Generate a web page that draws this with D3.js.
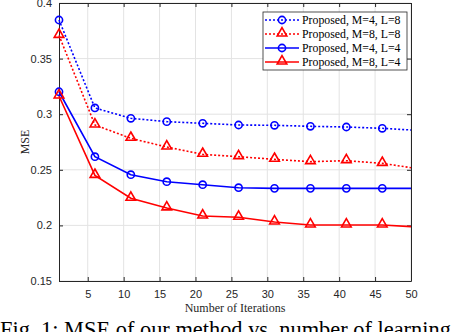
<!DOCTYPE html>
<html>
<head>
<meta charset="utf-8">
<script src="https://cdn.jsdelivr.net/npm/d3@7"></script>
<style>
  body { margin: 0; background: #fff; }
  svg { display: block; }
</style>
</head>
<body>
<div id="chart"></div>
<script>
// data
var iters = [1, 6, 11, 16, 21, 26, 31, 36, 41, 46, 50];
var m4l8 = [0.3847, 0.3056, 0.2963, 0.2933, 0.2918, 0.2903, 0.2900, 0.2891, 0.2885, 0.2873, 0.2858];
var m8l8 = [0.3709, 0.2903, 0.2783, 0.2705, 0.2639, 0.2618, 0.2594, 0.2573, 0.2582, 0.2558, 0.2519];
var m4l4 = [0.3202, 0.2618, 0.2456, 0.2393, 0.2366, 0.2339, 0.2333, 0.2333, 0.2333, 0.2333, 0.2333];
var m8l4 = [0.3164, 0.2450, 0.2244, 0.2157, 0.2084, 0.2073, 0.2031, 0.2004, 0.2004, 0.2004, 0.1989];
var names = ["Proposed, M=4, L=8", "Proposed, M=8, L=8", "Proposed, M=4, L=4", "Proposed, M=8, L=4"];
var xTicks = [5, 10, 15, 20, 25, 30, 35, 40, 45, 50];
var yTicks = [0.15, 0.2, 0.25, 0.3, 0.35, 0.4];

var series = [
  {name: names[0], values: m4l8, color: "#0000ff", dash: "2,2", marker: "circle"},
  {name: names[1], values: m8l8, color: "#ff0000", dash: "2,2", marker: "triangle"},
  {name: names[2], values: m4l4, color: "#0000ff", dash: null, marker: "circle"},
  {name: names[3], values: m8l4, color: "#ff0000", dash: null, marker: "triangle"}
];

var W = 452, H = 332;
var margin = {top: 3, right: 41, bottom: 51, left: 59},
    width = W - margin.left - margin.right,
    height = H - margin.top - margin.bottom;

var svg = d3.select("#chart").append("svg")
    .attr("width", W).attr("height", H);
var g = svg.append("g")
    .attr("transform", "translate(" + margin.left + "," + margin.top + ")");

var x = d3.scaleLinear().domain([1, 50]).range([0, width]);
var y = d3.scaleLinear().domain([0.15, 0.4]).range([height, 0]);

// grid
g.append("g").selectAll("line").data(xTicks).enter().append("line")
    .attr("x1", d => x(d)).attr("x2", d => x(d))
    .attr("y1", 0).attr("y2", height)
    .attr("stroke", "#e3e3e3").attr("stroke-width", 1);
g.append("g").selectAll("line").data(yTicks).enter().append("line")
    .attr("x1", 0).attr("x2", width)
    .attr("y1", d => y(d)).attr("y2", d => y(d))
    .attr("stroke", "#e3e3e3").attr("stroke-width", 1);

// axes (ticks pointing inward, box all round)
var axisColor = "#262626";
function styleAxis(sel) {
  sel.selectAll("path").attr("stroke", axisColor);
  sel.selectAll("line").attr("stroke", axisColor);
  sel.selectAll("text").attr("fill", axisColor)
     .style("font-family", "'Liberation Sans', Arial, sans-serif")
     .style("font-size", "11px");
}
var xb = g.append("g").attr("transform", "translate(0," + height + ")")
    .call(d3.axisBottom(x).tickValues(xTicks).tickSizeInner(-4).tickSizeOuter(0).tickPadding(9));
styleAxis(xb);
var yl = g.append("g")
    .call(d3.axisLeft(y).tickValues(yTicks).tickFormat(d3.format("")).tickSizeInner(-4).tickSizeOuter(0).tickPadding(7));
styleAxis(yl);
var xt = g.append("g")
    .call(d3.axisTop(x).tickValues(xTicks).tickSizeInner(-4).tickSizeOuter(0).tickFormat(""));
styleAxis(xt);
var yr = g.append("g").attr("transform", "translate(" + width + ",0)")
    .call(d3.axisRight(y).tickValues(yTicks).tickSizeInner(-4).tickSizeOuter(0).tickFormat(""));
styleAxis(yr);

// lines
var line = d3.line()
    .x((d, i) => x(iters[i]))
    .y(d => y(d));

var tri = d3.symbol().type(d3.symbolTriangle).size(40);

function drawMarker(sel, s) {
  if (s.marker == "circle") {
    sel.append("circle").attr("r", 3.6)
      .attr("fill", "none").attr("stroke", s.color).attr("stroke-width", 1.6);
  } else {
    sel.append("path").attr("d", tri).attr("transform", "translate(0,-0.8)")
      .attr("fill", "none").attr("stroke", s.color).attr("stroke-width", 1.6);
  }
}

series.forEach(function(s) {
  g.append("path")
    .datum(s.values)
    .attr("d", line)
    .attr("fill", "none")
    .attr("stroke", s.color)
    .attr("stroke-width", 1.6)
    .attr("stroke-dasharray", s.dash);
  // markers every 5 iterations (not on the last point)
  g.selectAll(null)
    .data(s.values.slice(0, s.values.length - 1))
    .enter().append("g")
    .attr("transform", (d, i) => "translate(" + x(iters[i]) + "," + y(d) + ")")
    .each(function() { drawMarker(d3.select(this), s); });
});

// legend
var lg = svg.append("g").attr("transform", "translate(263,12)");
lg.append("rect").attr("width", 144).attr("height", 58)
  .attr("fill", "#fff").attr("stroke", axisColor).attr("stroke-width", 0.8);
series.forEach(function(s, i) {
  var yy = 8 + i * 14;
  lg.append("line").attr("x1", 2).attr("x2", 36).attr("y1", yy).attr("y2", yy)
    .attr("stroke", s.color).attr("stroke-width", 1.6).attr("stroke-dasharray", s.dash);
  var m = lg.append("g").attr("transform", "translate(19," + yy + ")");
  drawMarker(m, s);
  lg.append("text").attr("x", 39).attr("y", yy + 4.2)
    .text(s.name)
    .style("font-family", "'Liberation Serif', 'Times New Roman', serif")
    .style("font-size", "11.8px")
    .attr("fill", "#000");
});

// axis labels
svg.append("text")
  .attr("transform", "translate(29," + (margin.top + height / 2) + ") rotate(-90)")
  .attr("text-anchor", "middle")
  .text("MSE")
  .style("font-family", "'Liberation Serif', 'Times New Roman', serif")
  .style("font-size", "12px").attr("fill", axisColor);

svg.append("text")
  .attr("x", margin.left + width / 2).attr("y", 312)
  .attr("text-anchor", "middle")
  .text("Number of Iterations")
  .style("font-family", "'Liberation Serif', 'Times New Roman', serif")
  .style("font-size", "12px").attr("fill", axisColor);

// caption (cut off at bottom of image, as in the figure)
svg.append("text")
  .attr("x", 0).attr("y", 337)
  .text("Fig. 1: MSE of our method vs. number of learning")
  .style("font-family", "'Liberation Serif', 'Times New Roman', serif")
  .style("font-size", "22.4px").attr("fill", "#000");
</script>
</body>
</html>
